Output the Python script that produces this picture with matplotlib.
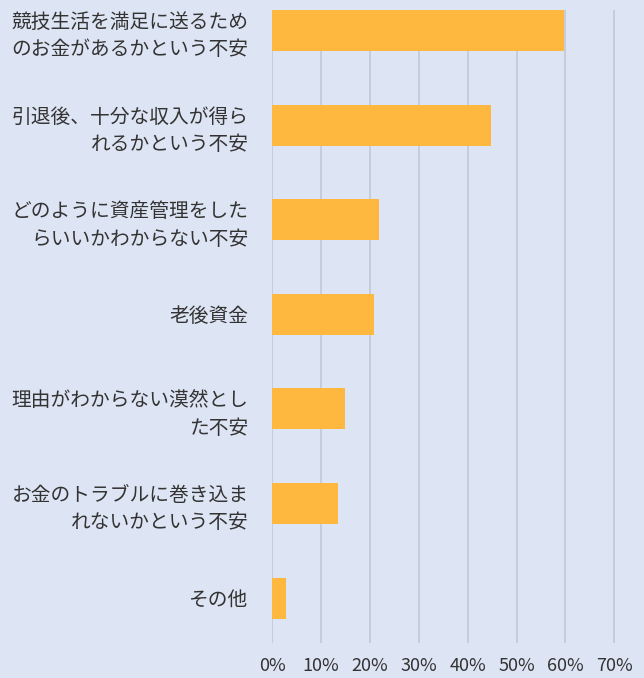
import matplotlib.pyplot as plt
import numpy as np

plt.rcParams['font.family'] = ['Noto Sans CJK JP', 'DejaVu Sans']

# Daten
labels = [
    "競技生活を満足に送るため\nのお金があるかという不安",
    "引退後、十分な収入が得ら\nれるかという不安",
    "どのように資産管理をした\nらいいかわからない不安",
    "老後資金",
    "理由がわからない漠然とし\nた不安",
    "お金のトラブルに巻き込ま\nれないかという不安",
    "その他",
]
values = [59.7, 44.7, 21.8, 20.9, 14.8, 13.5, 2.9]
xticks = [0, 10, 20, 30, 40, 50, 60, 70]
xticklabels = [f"{t}%" for t in xticks]

bg = "#dde4f3"
bar_col = "#ffb83f"
text_col = "#333333"

fig = plt.figure(figsize=(6.44, 6.78), dpi=100, facecolor=bg)
ax = fig.add_axes([0.4228, 0.0516, 0.5772, 0.9337])
ax.set_facecolor(bg)

y = np.arange(len(labels))
ax.barh(y, values, height=0.433, color=bar_col, zorder=3)

ax.set_xlim(0, 76.1)
ax.set_ylim(len(labels) - 1 + 0.475, -0.2165)

ax.set_xticks(xticks)
ax.set_xticklabels(xticklabels, fontsize=13, color=text_col)
ax.set_yticks(y)
ax.set_yticklabels(labels, fontsize=14.2, color=text_col, linespacing=1.4)

ax.tick_params(axis='y', length=0, pad=17)
ax.tick_params(axis='x', length=0, pad=10)
ax.grid(axis='x', color="#c3c8d5", linewidth=1.2, zorder=0)
for s in ax.spines.values():
    s.set_visible(False)

fig.savefig("out.png", dpi=100, facecolor=bg)
